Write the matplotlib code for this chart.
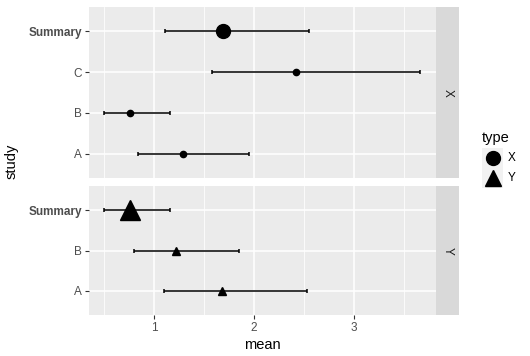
import numpy as np
import matplotlib
matplotlib.use("Agg")
import matplotlib.pyplot as plt
from matplotlib.lines import Line2D
from matplotlib.patches import Rectangle

plt.rcParams['font.family'] = ['Liberation Sans', 'DejaVu Sans']

# type X panel
x_study = ["A", "B", "C", "Summary"]
x_mean = [1.29, 0.76, 2.42, 1.69]
x_lower = [0.84, 0.50, 1.58, 1.11]
x_upper = [1.95, 1.16, 3.66, 2.55]

# type Y panel
y_study = ["A", "B", "Summary"]
y_mean = [1.68, 1.22, 0.76]
y_lower = [1.10, 0.80, 0.50]
y_upper = [2.53, 1.85, 1.16]

x_ticks = [1, 2, 3]
xlim = (0.35, 3.82)

W, H = 530, 356
fig = plt.figure(figsize=(W / 100, H / 100), dpi=100)

def px_axes(left, top, right, bottom):
    return fig.add_axes([left / W, 1 - bottom / H, (right - left) / W, (bottom - top) / H])

ax_top = px_axes(89, 7, 436, 178)
ax_bot = px_axes(89, 186, 436, 315)

panels = [(ax_top, x_study, x_mean, x_lower, x_upper, "o", "X"),
          (ax_bot, y_study, y_mean, y_lower, y_upper, "^", "Y")]

for ax, study, mean, lower, upper, marker, lab in panels:
    n = len(study)
    pos = np.arange(1, n + 1)
    ax.set_facecolor("#EBEBEB")
    for s in ax.spines.values():
        s.set_visible(False)
    ax.set_xlim(*xlim)
    ax.set_ylim(0.4, n + 0.6)
    ax.set_xticks(x_ticks)
    ax.set_xticks([0.5, 1.5, 2.5, 3.5], minor=True)
    ax.set_yticks(pos)
    ax.set_yticklabels(study)
    ax.grid(True, which="major", color="white", lw=1.1)
    ax.grid(True, which="minor", axis="x", color="white", lw=0.55)
    ax.set_axisbelow(True)
    ax.tick_params(which="major", length=3, width=0.8, color="#333333",
                   labelcolor="#4D4D4D", labelsize=8.5, pad=2)
    ax.tick_params(which="minor", length=0)
    for t in ax.get_yticklabels():
        if t.get_text() == "Summary":
            t.set_fontweight("bold")
    mean = np.array(mean)
    err = [mean - np.array(lower), np.array(upper) - mean]
    ax.errorbar(mean, pos, xerr=err, fmt="none", ecolor="black", elinewidth=1.1,
                capsize=1.5, capthick=1.1)
    # summary points drawn bigger
    if marker == "^":
        sizes = [14 if s == "Summary" else 6 for s in study]
    else:
        sizes = [10 if s == "Summary" else 4.5 for s in study]
    for xm, yp, ms in zip(mean, pos, sizes):
        ax.plot(xm, yp, marker=marker, ms=ms, color="black", zorder=5)
    # strip on the right
    y0, y1 = ax.get_position().y0, ax.get_position().y1
    strip = fig.add_axes([436 / W, y0, 23 / W, y1 - y0])
    strip.set_facecolor("#D9D9D9")
    strip.set_xticks([])
    strip.set_yticks([])
    for s in strip.spines.values():
        s.set_visible(False)
    strip.text(0.5, 0.5, lab, rotation=-90, ha="center", va="center",
               fontsize=8.5, color="#1A1A1A", transform=strip.transAxes)

ax_top.tick_params(axis="x", which="both", bottom=False, labelbottom=False)

fig.text(262 / W, 1 - 345 / H, "mean", ha="center", va="center", fontsize=10.5)
fig.text(12 / W, 1 - 161 / H, "study", ha="center", va="center", rotation=90, fontsize=10.5)

# legend
fig.text(482 / W, 1 - 138 / H, "type", ha="left", va="center", fontsize=10.5)
for i, (mk, lab, ms) in enumerate([("o", "X", 10), ("^", "Y", 12)]):
    top = 148 + i * 20
    fig.patches.append(Rectangle((482 / W, 1 - (top + 20) / H), 21 / W, 20 / H,
                                 transform=fig.transFigure, facecolor="#F2F2F2",
                                 edgecolor="none"))
    fig.lines.append(Line2D([492.5 / W], [1 - (top + 10) / H], marker=mk, ms=ms,
                            color="black", transform=fig.transFigure))
    fig.text(508 / W, 1 - (top + 10) / H, lab, ha="left", va="center", fontsize=8.5)

fig.savefig("out.png", dpi=100)
